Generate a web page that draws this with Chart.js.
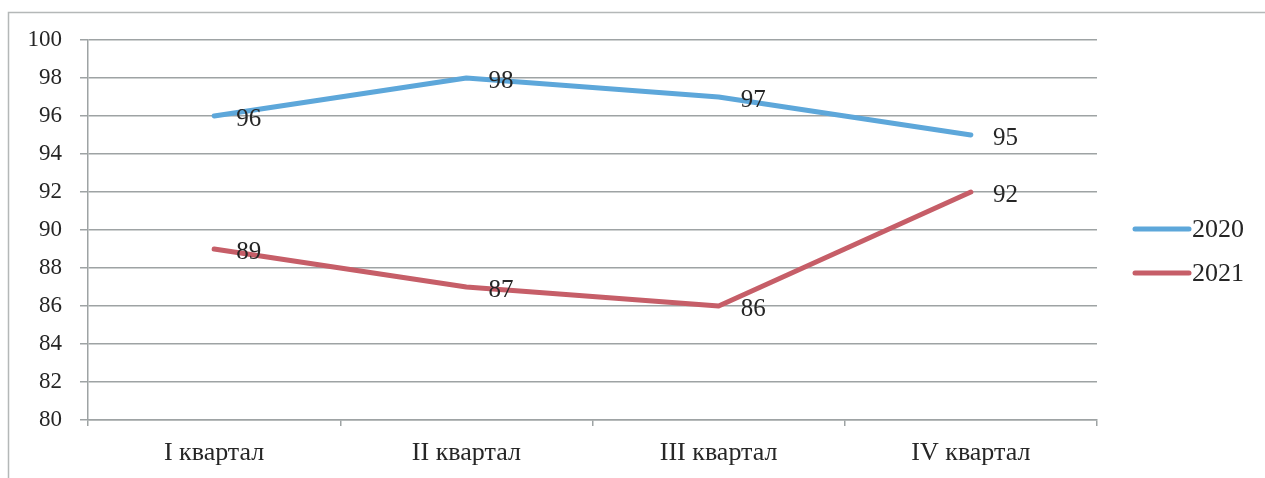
<!DOCTYPE html>
<html>
<head>
<meta charset="utf-8">
<script src="https://cdn.jsdelivr.net/npm/chart.js@4.4.1/dist/chart.umd.min.js"></script>
<style>
  html, body { margin: 0; padding: 0; background: #fff; }
  #wrap { position: relative; width: 1265px; height: 478px; }
</style>
</head>
<body>
<div id="wrap"><canvas id="c" width="1265" height="478"></canvas></div>
<script>
const categories = ["I квартал", "II квартал", "III квартал", "IV квартал"];
const series2020 = [96, 98, 97, 95];
const series2021 = [89, 87, 86, 92];
const seriesNames = ["2020", "2021"];
const yTicks = [80, 82, 84, 86, 88, 90, 92, 94, 96, 98, 100];

const BLUE = "#5da7da";
const RED = "#c65e68";
const GRID = "#9ea3a4";
const TEXT = "#262626";
const SERIF = "'Liberation Serif', 'Times New Roman', serif";

const frame = {
  id: "frame",
  beforeDraw(chart) {
    const ctx = chart.ctx;
    ctx.save();
    ctx.fillStyle = "#fff";
    ctx.fillRect(0, 0, chart.width, chart.height);
    ctx.strokeStyle = "#b4b8b8";
    ctx.lineWidth = 1.5;
    ctx.beginPath();
    ctx.moveTo(8.5, 478);
    ctx.lineTo(8.5, 12.5);
    ctx.lineTo(1265, 12.5);
    ctx.stroke();
    ctx.restore();
  }
};

const dataLabels = {
  id: "dataLabels",
  afterDatasetsDraw(chart) {
    const ctx = chart.ctx;
    ctx.save();
    ctx.font = "25px " + SERIF;
    ctx.fillStyle = TEXT;
    ctx.textAlign = "left";
    ctx.textBaseline = "middle";
    chart.data.datasets.forEach((ds, i) => {
      const meta = chart.getDatasetMeta(i);
      meta.data.forEach((pt, j) => {
        ctx.fillText(String(ds.data[j]), pt.x + 22, pt.y + 3);
      });
    });
    ctx.restore();
  }
};

const sideLegend = {
  id: "sideLegend",
  afterDraw(chart) {
    const ctx = chart.ctx;
    ctx.save();
    ctx.font = "26px " + SERIF;
    ctx.fillStyle = TEXT;
    ctx.textAlign = "left";
    ctx.textBaseline = "middle";
    chart.data.datasets.forEach((ds, i) => {
      const y = 229 + i * 44;
      ctx.strokeStyle = ds.borderColor;
      ctx.lineWidth = 5;
      ctx.lineCap = "round";
      ctx.beginPath();
      ctx.moveTo(1135, y);
      ctx.lineTo(1189, y);
      ctx.stroke();
      ctx.fillText(ds.label, 1192, y + 1);
    });
    ctx.restore();
  }
};

new Chart(document.getElementById("c"), {
  type: "line",
  data: {
    labels: categories,
    datasets: [
      { label: seriesNames[0], data: series2020, borderColor: BLUE, backgroundColor: BLUE,
        borderWidth: 5, pointRadius: 0, pointHoverRadius: 0, tension: 0, borderCapStyle: "round", borderJoinStyle: "round" },
      { label: seriesNames[1], data: series2021, borderColor: RED, backgroundColor: RED,
        borderWidth: 5, pointRadius: 0, pointHoverRadius: 0, tension: 0, borderCapStyle: "round", borderJoinStyle: "round" }
    ]
  },
  options: {
    responsive: false,
    animation: false,
    devicePixelRatio: 1,
    layout: { padding: { left: 0, right: 168, top: 40, bottom: 0 } },
    plugins: {
      legend: { display: false },
      tooltip: { enabled: false }
    },
    scales: {
      x: {
        type: "category",
        offset: true,
        afterFit(s) { s.height = 58; },
        grid: { display: true, offset: true, drawOnChartArea: false, drawTicks: true, tickLength: 6, color: GRID, lineWidth: 1.5 },
        border: { display: true, color: GRID, width: 1.5 },
        ticks: { color: TEXT, font: { family: SERIF, size: 26 }, padding: 12, maxRotation: 0 }
      },
      y: {
        min: 80,
        max: 100,
        afterFit(s) { s.width = 88; },
        afterBuildTicks(s) { s.ticks = yTicks.map(v => ({ value: v })); },
        grid: { color: GRID, lineWidth: 1.5, drawTicks: true, tickLength: 8 },
        border: { display: true, color: GRID, width: 1.5 },
        ticks: { color: TEXT, font: { family: SERIF, size: 23 }, padding: 18 }
      }
    }
  },
  plugins: [frame, dataLabels, sideLegend]
});
</script>
</body>
</html>
